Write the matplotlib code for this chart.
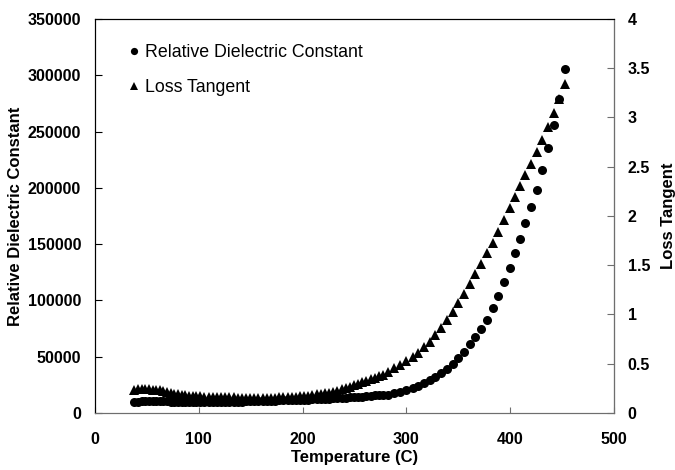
import numpy as np
import matplotlib.pyplot as plt

plt.rcParams['font.family'] = ['Liberation Sans', 'DejaVu Sans']

# Temperature (C)
temp = [38, 41.5, 45, 48.5, 52, 55.5, 59, 62.5, 66, 69.5, 73, 76.5, 80, 83.5, 87, 90.5, 94, 97.5,
        101.5, 105.5, 109.5, 113.5, 117.5, 121.5, 125.5, 129.5, 133.5, 137.5, 141.5, 145.5,
        149.5, 153.5, 157.5, 161.5, 165.5, 169.5, 173.5, 177.5, 181.5, 185.5, 189.5, 193.5,
        197.5, 201.5, 205.5, 209.5, 213.5, 217.5, 221.5, 225.5, 229.5, 233.5, 237.5, 241.5,
        245.5, 249.5, 253.5, 257.5, 261.5, 265.5, 269.5, 273.5, 277.5,
        282, 288, 294, 300, 306, 311.5, 317, 322.5, 328, 333.5, 339, 344.5, 350, 355.5, 361,
        366.5, 372, 377.5, 383, 388.5, 394, 399.5, 404.5, 409.5, 414.5, 420, 425.5, 431,
        436.5, 442, 447.5, 453]

# Relative dielectric constant
eps = [10000, 10200, 10400, 10500, 10600, 10600, 10600, 10500, 10400, 10300, 10200, 10100,
       10000, 9900, 9900, 9800, 9800, 9800,
       9800, 9800, 9800, 9800, 9850, 9900, 9950, 10000, 10050, 10100, 10200, 10300,
       10400, 10500, 10600, 10700, 10800, 10900, 11000, 11100, 11200, 11300, 11400, 11500,
       11650, 11800, 11950, 12100, 12250, 12400, 12550, 12700, 12900, 13100, 13300, 13550,
       13800, 14050, 14300, 14600, 14900, 15200, 15550, 15900, 16300,
       16400, 17500, 18700, 20000, 21800, 23700, 26200, 29000, 32100, 35500, 39300, 43800,
       49000, 54500, 61000, 67500, 74500, 83000, 93000, 104000, 116500, 129000, 142000,
       155000, 168500, 183000, 198500, 216000, 235000, 256000, 279000, 306000]

# Loss tangent
tand = [0.235, 0.24, 0.24, 0.24, 0.24, 0.238, 0.235, 0.23, 0.225, 0.215, 0.205, 0.197,
        0.19, 0.184, 0.18, 0.176, 0.173, 0.17,
        0.168, 0.166, 0.165, 0.163, 0.162, 0.161, 0.16, 0.159, 0.158, 0.157, 0.156, 0.156,
        0.155, 0.155, 0.155, 0.155, 0.155, 0.156, 0.157, 0.158, 0.159, 0.161, 0.163, 0.166,
        0.169, 0.173, 0.177, 0.182, 0.188, 0.194, 0.201, 0.208, 0.216, 0.228, 0.24, 0.252,
        0.265, 0.28, 0.295, 0.31, 0.326, 0.342, 0.358, 0.374, 0.39,
        0.42, 0.454, 0.487, 0.525, 0.565, 0.61, 0.665, 0.725, 0.79, 0.86, 0.94, 1.03,
        1.12, 1.21, 1.31, 1.41, 1.51, 1.62, 1.73, 1.84, 1.96, 2.08, 2.19,
        2.30, 2.42, 2.53, 2.65, 2.77, 2.90, 3.05, 3.19, 3.34]

fig = plt.figure(figsize=(6.75, 4.7), dpi=100)
ax = fig.add_axes([0.1407, 0.1213, 0.7689, 0.8383])
ax2 = ax.twinx()

h1, = ax.plot(temp, eps, 'o', color='black', markersize=6.5, markeredgewidth=0,
              label='Relative Dielectric Constant')
h2, = ax2.plot(temp, tand, '^', color='black', markersize=7.5, markeredgewidth=0,
               label='Loss Tangent')

ax.set_xlim(0, 500)
ax.set_ylim(0, 350000)
ax2.set_ylim(0, 4)
ax.set_xticks(np.arange(0, 501, 100))
ax.set_yticks(np.arange(0, 350001, 50000))
ax2.set_yticks(np.arange(0, 4.01, 0.5))
ax2.set_yticklabels(['0', '0.5', '1', '1.5', '2', '2.5', '3', '3.5', '4'])

for a in (ax, ax2):
    for lab in a.get_xticklabels() + a.get_yticklabels():
        lab.set_fontweight('bold')
        lab.set_fontsize(11.5)
frame = '#6e6e6e'
ax.spines['bottom'].set_color(frame)
ax2.spines['bottom'].set_color(frame)
ax2.spines['right'].set_color(frame)
ax.spines['top'].set_linewidth(0.8)
ax.tick_params(axis='x', direction='in', length=4, color=frame, pad=14)
ax.tick_params(axis='y', direction='in', length=5, pad=10)
ax2.tick_params(axis='y', direction='in', length=5, color=frame, pad=10)

ax.set_xlabel('Temperature (C)', fontsize=12, fontweight='bold', labelpad=2)
ax.set_ylabel('Relative Dielectric Constant', fontsize=12, fontweight='bold', labelpad=3)
ax2.set_ylabel('Loss Tangent', fontsize=12, fontweight='bold', labelpad=8)

ax2.legend(handles=[h1, h2], loc='upper left', bbox_to_anchor=(0.052, 0.955), frameon=False,
           fontsize=12.75, handlelength=0.6, handletextpad=0.3, labelspacing=1.05,
           markerscale=0.8, borderaxespad=0)

fig.savefig('out.png', dpi=100)
